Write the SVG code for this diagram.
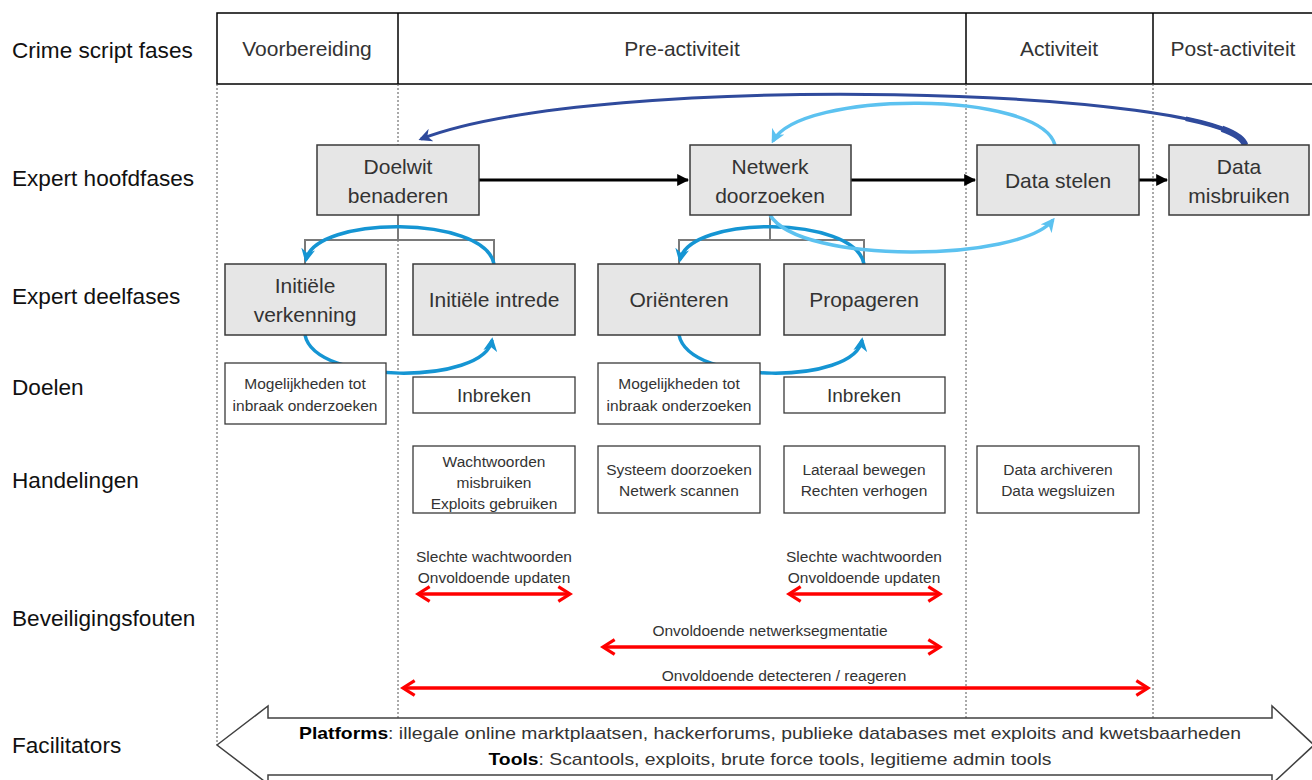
<svg xmlns="http://www.w3.org/2000/svg" width="1312" height="780" viewBox="0 0 1312 780">
<defs>
<style>
text{font-family:"Liberation Sans",Arial,sans-serif;fill:#333}
.lbl{font-size:22.6px;fill:#111}
.hdr{font-size:21px;text-anchor:middle}
.big{font-size:21px;text-anchor:middle}
.mid{font-size:19px;text-anchor:middle}
.sm{font-size:15.5px;text-anchor:middle}
.gbox{fill:#e6e6e6;stroke:#3a3a3a;stroke-width:1.5}
.wbox{fill:#fff;stroke:#3a3a3a;stroke-width:1.3}
.dash{stroke:#555;stroke-width:1;stroke-dasharray:2 2;fill:none}
.blk{stroke:#000;stroke-width:3;fill:none;marker-end:url(#ab)}
.brk{stroke:#7a7a7a;stroke-width:2;fill:none}
.blu{stroke:#1595d3;stroke-width:3.5;fill:none;marker-end:url(#abl)}
.lbu{stroke:#5cc2f0;stroke-width:3.5;fill:none;marker-end:url(#alb)}
.dbu{stroke:#2f4a9c;stroke-width:3;fill:none;marker-end:url(#adb)}
.red{stroke:#ff0000;stroke-width:3.5;fill:none;marker-start:url(#ar);marker-end:url(#ar)}
</style>
<marker id="ab" viewBox="0 0 10 10" refX="9" refY="5" markerWidth="4" markerHeight="4" orient="auto"><path d="M0,0 L10,5 L0,10 z" fill="#000"/></marker>
<marker id="abl" viewBox="0 0 10 10" refX="8" refY="5" markerWidth="4" markerHeight="4" orient="auto"><path d="M0,0 L10,5 L0,10 L3,5 z" fill="#1595d3"/></marker>
<marker id="alb" viewBox="0 0 10 10" refX="8" refY="5" markerWidth="4" markerHeight="4" orient="auto"><path d="M0,0 L10,5 L0,10 L3,5 z" fill="#5cc2f0"/></marker>
<marker id="adb" viewBox="0 0 10 10" refX="8" refY="5" markerWidth="4.5" markerHeight="4.5" orient="auto"><path d="M0,0 L10,5 L0,10 L3,5 z" fill="#2f4a9c"/></marker>
<marker id="ar" viewBox="0 0 12 12" refX="10" refY="6" markerWidth="5" markerHeight="5" orient="auto-start-reverse"><path d="M2,1 L10,6 L2,11" fill="none" stroke="#ff0000" stroke-width="2.2"/></marker>
</defs>
<rect width="1312" height="780" fill="#fff"/>

<g id="row-labels">
<text class="lbl" x="12" y="58">Crime script fases</text>
<text class="lbl" x="12" y="186">Expert hoofdfases</text>
<text class="lbl" x="12" y="304">Expert deelfases</text>
<text class="lbl" x="12" y="395">Doelen</text>
<text class="lbl" x="12" y="488">Handelingen</text>
<text class="lbl" x="12" y="626">Beveiligingsfouten</text>
<text class="lbl" x="12" y="753">Facilitators</text>
</g>

<g id="header">
<rect x="217" y="13" width="1105" height="71" fill="#fff" stroke="#000" stroke-width="1.5"/>
<line x1="398" y1="13" x2="398" y2="84" stroke="#000" stroke-width="1.5"/>
<line x1="966" y1="13" x2="966" y2="84" stroke="#000" stroke-width="1.5"/>
<line x1="1153" y1="13" x2="1153" y2="84" stroke="#000" stroke-width="1.5"/>
<text class="hdr" x="307" y="56">Voorbereiding</text>
<text class="hdr" x="682" y="56">Pre-activiteit</text>
<text class="hdr" x="1059" y="56">Activiteit</text>
<text class="hdr" x="1233" y="56">Post-activiteit</text>
</g>

<g id="column-dividers">
<line class="dash" x1="217" y1="84" x2="217" y2="745"/>
<line class="dash" x1="398" y1="84" x2="398" y2="718"/>
<line class="dash" x1="966" y1="84" x2="966" y2="718"/>
<line class="dash" x1="1153" y1="84" x2="1153" y2="718"/>
</g>

<g id="connectors">
<line class="blk" x1="479" y1="180" x2="688" y2="180"/>
<line class="blk" x1="851" y1="180" x2="975" y2="180"/>
<line class="blk" x1="1139" y1="180" x2="1167" y2="180"/>
<path class="brk" d="M398,215 V240 M305,264 V240 H494 V264"/>
<path class="brk" d="M770,215 V240 M679,264 V240 H864 V264"/>
<path class="blu" d="M494,264 C485,215 315,215 306,260"/>
<path class="blu" d="M305,335 C315,385 485,385 492,340"/>
<path class="blu" d="M864,264 C855,215 689,215 680,260"/>
<path class="blu" d="M679,335 C689,385 855,385 862,340"/>
<path class="lbu" d="M1055,145 C1040,90 800,90 773,141"/>
<path class="lbu" d="M770,215 C800,265 1020,262 1053,220"/>
<path class="dbu" d="M1245,145 C1230,88 600,70 421,139"/>
<path d="M1245,145 C1230,88 600,70 421,139" pathLength="100" stroke-dasharray="8 200" fill="none" stroke="#2f4a9c" stroke-width="4.5"/>
<path d="M1245,145 C1230,88 600,70 421,139" pathLength="100" stroke-dasharray="3.5 200" fill="none" stroke="#2f4a9c" stroke-width="6.5"/>
<path class="red" d="M418,594 H570"/>
<path class="red" d="M789,594 H940"/>
<path class="red" d="M603,647 H940"/>
<path class="red" d="M403,688 H1148"/>
</g>

<g id="node-doelwit"><rect class="gbox" x="317" y="145" width="162" height="70"/><text class="big" x="398" y="174">Doelwit</text><text class="big" x="398" y="203">benaderen</text></g>
<g id="node-netwerk"><rect class="gbox" x="690" y="145" width="161" height="70"/><text class="big" x="770" y="174">Netwerk</text><text class="big" x="770" y="203">doorzoeken</text></g>
<g id="node-stelen"><rect class="gbox" x="977" y="145" width="162" height="70"/><text class="big" x="1058" y="188">Data stelen</text></g>
<g id="node-misbruiken"><rect class="gbox" x="1169" y="145" width="140" height="70"/><text class="big" x="1239" y="174">Data</text><text class="big" x="1239" y="203">misbruiken</text></g>

<g id="node-verkenning"><rect class="gbox" x="225" y="264" width="161" height="71"/><text class="big" x="305" y="293">Initiële</text><text class="big" x="305" y="322">verkenning</text></g>
<g id="node-intrede"><rect class="gbox" x="413" y="264" width="162" height="71"/><text class="big" x="494" y="307">Initiële intrede</text></g>
<g id="node-orienteren"><rect class="gbox" x="598" y="264" width="162" height="71"/><text class="big" x="679" y="307">Oriënteren</text></g>
<g id="node-propageren"><rect class="gbox" x="784" y="264" width="161" height="71"/><text class="big" x="864" y="307">Propageren</text></g>

<g id="goal-1"><rect class="wbox" x="225" y="363" width="161" height="61"/><text class="sm" x="305" y="389">Mogelijkheden tot</text><text class="sm" x="305" y="411">inbraak onderzoeken</text></g>
<g id="goal-2"><rect class="wbox" x="413" y="377" width="162" height="36"/><text class="mid" x="494" y="402">Inbreken</text></g>
<g id="goal-3"><rect class="wbox" x="598" y="363" width="162" height="61"/><text class="sm" x="679" y="389">Mogelijkheden tot</text><text class="sm" x="679" y="411">inbraak onderzoeken</text></g>
<g id="goal-4"><rect class="wbox" x="784" y="377" width="161" height="36"/><text class="mid" x="864" y="402">Inbreken</text></g>

<g id="act-1"><rect class="wbox" x="413" y="446" width="162" height="67"/><text class="sm" x="494" y="467">Wachtwoorden</text><text class="sm" x="494" y="488">misbruiken</text><text class="sm" x="494" y="509">Exploits gebruiken</text></g>
<g id="act-2"><rect class="wbox" x="598" y="446" width="162" height="67"/><text class="sm" x="679" y="475">Systeem doorzoeken</text><text class="sm" x="679" y="496">Netwerk scannen</text></g>
<g id="act-3"><rect class="wbox" x="784" y="446" width="161" height="67"/><text class="sm" x="864" y="475">Lateraal bewegen</text><text class="sm" x="864" y="496">Rechten verhogen</text></g>
<g id="act-4"><rect class="wbox" x="977" y="446" width="162" height="67"/><text class="sm" x="1058" y="475">Data archiveren</text><text class="sm" x="1058" y="496">Data wegsluizen</text></g>

<g id="security-faults">
<text class="sm" x="494" y="562">Slechte wachtwoorden</text>
<text class="sm" x="494" y="583">Onvoldoende updaten</text>
<text class="sm" x="864" y="562">Slechte wachtwoorden</text>
<text class="sm" x="864" y="583">Onvoldoende updaten</text>
<text class="sm" x="770" y="636">Onvoldoende netwerksegmentatie</text>
<text class="sm" x="784" y="681">Onvoldoende detecteren / reageren</text>
</g>

<g id="facilitators">
<polygon points="217,745 268,706 268,718 1272,718 1272,706 1314,745 1272,784 1272,775 268,775 268,784" fill="#fff" stroke="#404040" stroke-width="1.5"/>
<text x="770" y="739" text-anchor="middle" font-size="17" textLength="942" lengthAdjust="spacingAndGlyphs"><tspan font-weight="bold" fill="#000">Platforms</tspan>: illegale online marktplaatsen, hackerforums, publieke databases met exploits and kwetsbaarheden</text>
<text x="770" y="765" text-anchor="middle" font-size="17" textLength="563" lengthAdjust="spacingAndGlyphs"><tspan font-weight="bold" fill="#000">Tools</tspan>: Scantools, exploits, brute force tools, legitieme admin tools</text>
</g>
</svg>
